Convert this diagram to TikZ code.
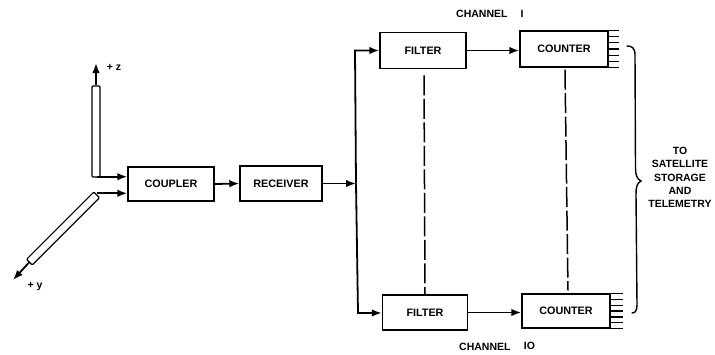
\documentclass[tikz,border=0pt]{standalone}
\usepackage{fontspec}
\setmainfont{Liberation Sans}
\usetikzlibrary{arrows.meta,calc,positioning}
\tikzset{
  x=1pt,y=-1pt,
  blockbox/.style={draw=black,line width=1.4pt,rectangle,inner sep=0pt,font=\fontsize{10.8}{12}\selectfont\bfseries},
  tube/.style={draw=black,line width=1.2pt,rectangle,rounded corners=1pt,fill=white,inner sep=0pt},
  conn/.style={draw=black,line width=1.8pt,-{Latex[length=10pt,width=7.5pt]}},
  gap/.style={draw=black,line width=1.5pt,dash pattern=on 20pt off 3.5pt},
  hatch/.style={draw=black,line width=1.2pt},
  lab/.style={inner sep=0pt,font=\fontsize{10.5}{13.4}\selectfont\bfseries,align=center},
}
\begin{document}
\begin{tikzpicture}
\useasboundingbox (0,0) rectangle (715,354);
% blocks
\node[blockbox,minimum width=86pt,minimum height=34pt] (coupler) at (171,184) {COUPLER};
\node[blockbox,minimum width=82pt,minimum height=35pt] (receiver) at (281,183.5) {RECEIVER};
\node[blockbox,minimum width=86pt,minimum height=36.5pt] (filtA) at (423,50.5) {FILTER};
\node[blockbox,minimum width=88pt,minimum height=36pt] (countA) at (564,49) {COUNTER};
\node[blockbox,minimum width=85pt,minimum height=35pt] (filtB) at (425,312.5) {FILTER};
\node[blockbox,minimum width=88pt,minimum height=34pt] (countB) at (566,311) {COUNTER};
% antennas
\node[tube,minimum width=8pt,minimum height=91pt] (zrod) at (96,131.5) {};
\node[tube,minimum width=8pt,minimum height=95pt,rotate=-45] (yrod) at (63,228.5) {};
\coordinate (ztip) at (96,63);
\coordinate (ytip) at (13,280);
\coordinate (zout) at (97,176.7);
\coordinate (yout) at (97,193.3);
\draw[conn] (zrod.north) -- (ztip);
\draw[conn] (yrod.south) -- (ytip);
\draw[conn] (zout) -- (zout -| coupler.west);
\draw[conn] (yout) -- (yout -| coupler.west);
\node[lab] (zlab) at (114,67.5) {+ z};
\node[lab] (ylab) at (35,287) {+ y};
% main chain
\coordinate (bus) at (356,183.5);
\coordinate (busA) at (355,50.5);
\coordinate (busB) at (358,313);
\draw[conn] (coupler.east) -- (receiver.west);
\draw[conn] (receiver.east) -- (bus);
\draw[conn] (bus) -- (busA) -- (busA -| filtA.west);
\draw[conn] (bus) -- (busB) -- (busB -| filtB.west);
\draw[conn] (filtA.east) -- (filtA.east -| countA.west);
\draw[conn] (filtB.east) -- (filtB.east -| countB.west);
\draw[gap] ($(filtA.south)+(1,6)$) -- (filtB.north);
\draw[gap] ($(countA.south)+(1,2)$) -- ($(countB.north)+(2,-3)$);
% counter output hatches
\foreach \f in {0,...,6}{
  \draw[hatch] ($(countA.north east)!\f/6!(countA.south east)$) -- ++(10,0);
  \draw[hatch] ($(countB.north east)!\f/6!(countB.south east)$) -- ++(12,0);
}
% brace
\coordinate (brTop) at (627,46);
\coordinate (brTip) at (641,181);
\coordinate (brBot) at (632,313);
\draw[draw=black,line width=1.4pt,line cap=round] (brTop) .. controls (632,46) and (635,48) .. (635,55) -- (635.5,168) .. controls (635.5,175) and (637,179) .. (brTip) .. controls (637,183) and (636,187) .. (636,194) -- (637,305) .. controls (637,311) and (635,313) .. (brBot);
% labels
\node[lab,anchor=west] (chA) at (456,14) {CHANNEL};
\node[lab] (chAn) at (522,14) {I};
\node[lab,anchor=west] (chB) at (459,347) {CHANNEL};
\node[lab] (chBn) at (529.5,346) {IO};
\node[lab] (dest) at (680,177.5) {TO\\SATELLITE\\STORAGE\\AND\\TELEMETRY};
\end{tikzpicture}
\end{document}
